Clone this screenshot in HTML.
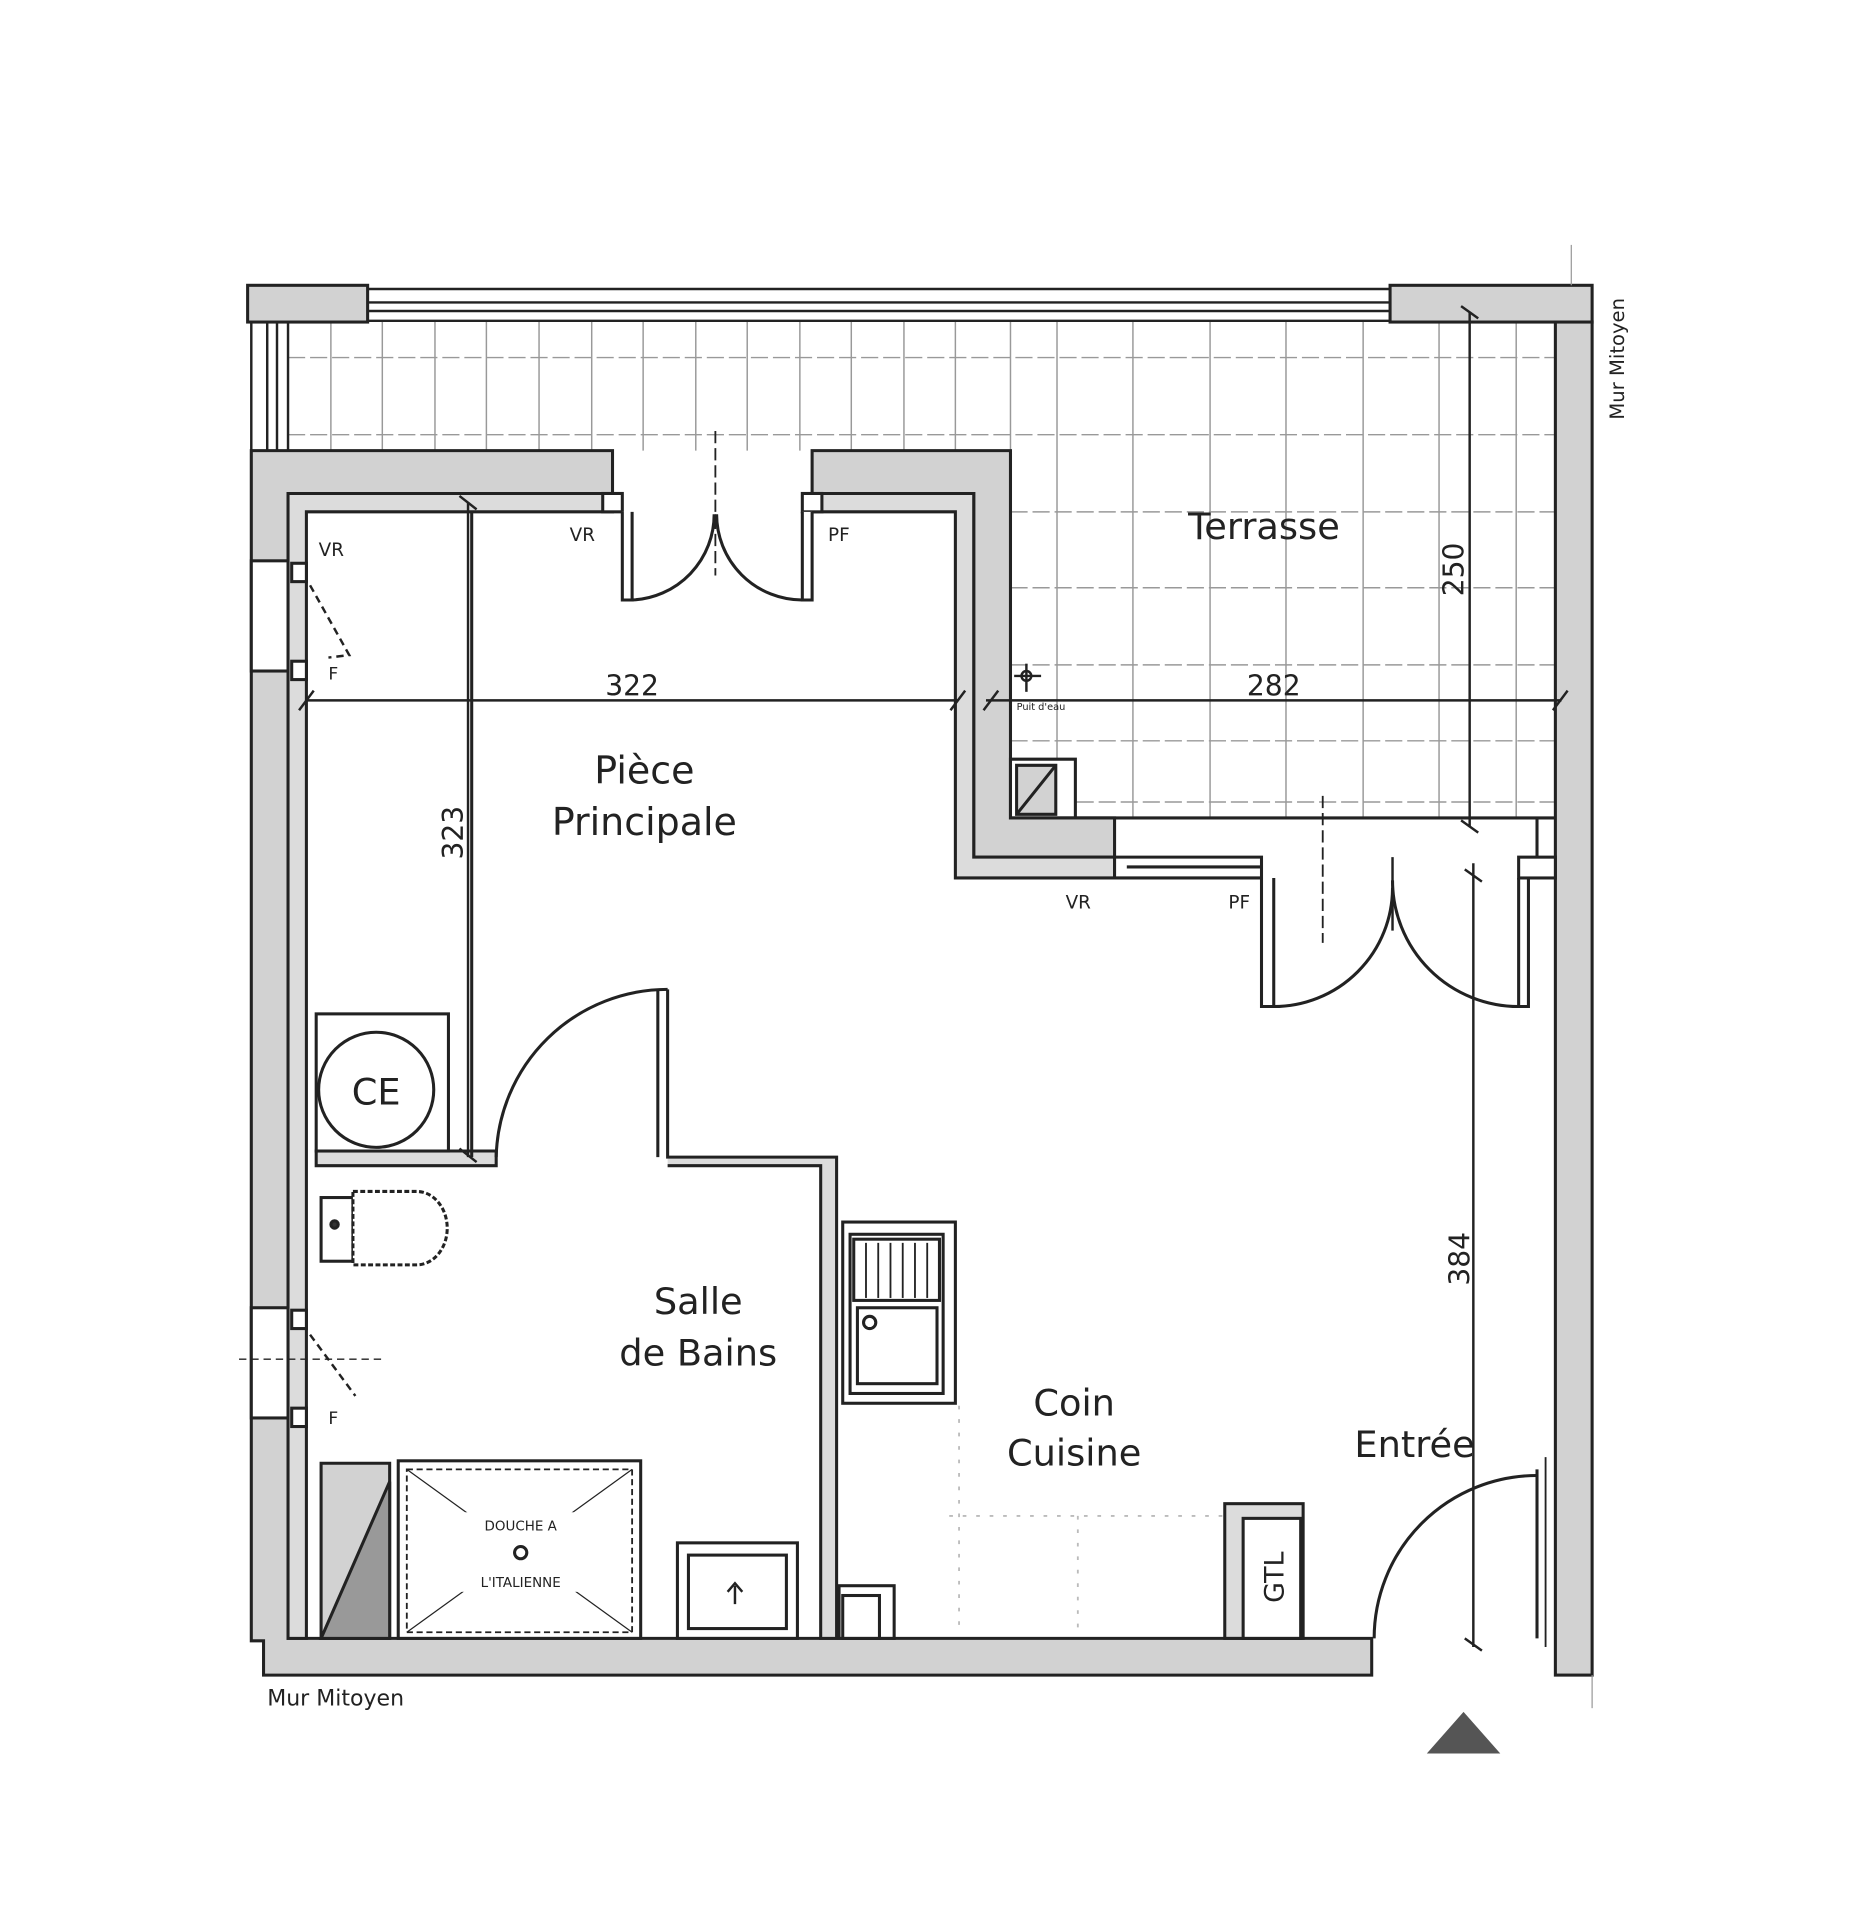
<!DOCTYPE html>
<html><head><meta charset="utf-8"><style>
html,body{margin:0;padding:0;background:#fff;width:1863px;height:1920px;overflow:hidden}
svg{display:block}
text{font-family:"DejaVu Sans","Liberation Sans",sans-serif;fill:#222}
</style></head><body>
<svg width="1863" height="1920" viewBox="0 0 1521 1568" xmlns="http://www.w3.org/2000/svg">
<g stroke="#222" stroke-width="2.5" fill="#d2d2d2">
<!-- terrace grid -->
<g stroke="#999" stroke-width="1.2" fill="none">
<line x1="270" y1="263" x2="270" y2="368"/><line x1="312" y1="263" x2="312" y2="368"/><line x1="355" y1="263" x2="355" y2="368"/><line x1="397" y1="263" x2="397" y2="368"/><line x1="440" y1="263" x2="440" y2="368"/><line x1="483" y1="263" x2="483" y2="368"/><line x1="525" y1="263" x2="525" y2="368"/><line x1="568" y1="263" x2="568" y2="368"/><line x1="610" y1="263" x2="610" y2="368"/><line x1="653" y1="263" x2="653" y2="368"/><line x1="695" y1="263" x2="695" y2="368"/><line x1="738" y1="263" x2="738" y2="368"/><line x1="780" y1="263" x2="780" y2="368"/>
<line x1="863" y1="263" x2="863" y2="668"/><line x1="925" y1="263" x2="925" y2="668"/><line x1="988" y1="263" x2="988" y2="668"/><line x1="1050" y1="263" x2="1050" y2="668"/><line x1="1113" y1="263" x2="1113" y2="668"/><line x1="1175" y1="263" x2="1175" y2="668"/><line x1="1238" y1="263" x2="1238" y2="668"/><line x1="825" y1="263" x2="825" y2="368"/>
<line x1="235" y1="292" x2="1270" y2="292" stroke-dasharray="14 4"/><line x1="235" y1="355" x2="1270" y2="355" stroke-dasharray="14 4"/>
<line x1="825" y1="418" x2="1270" y2="418" stroke-dasharray="14 4"/><line x1="825" y1="480" x2="1270" y2="480" stroke-dasharray="14 4"/><line x1="825" y1="543" x2="1270" y2="543" stroke-dasharray="14 4"/><line x1="825" y1="605" x2="1270" y2="605" stroke-dasharray="14 4"/><line x1="825" y1="655" x2="1270" y2="655" stroke-dasharray="14 4"/>
</g>
<!-- top railing -->
<rect x="202" y="233" width="98" height="30"/>
<rect x="1135" y="233" width="165" height="30"/>
<g fill="none" stroke-width="2"><line x1="300" y1="236" x2="1135" y2="236"/><line x1="300" y1="247" x2="1135" y2="247"/><line x1="300" y1="254" x2="1135" y2="254"/><line x1="300" y1="262" x2="1135" y2="262"/>
<line x1="205" y1="263" x2="205" y2="368"/><line x1="218" y1="263" x2="218" y2="368"/><line x1="226" y1="263" x2="226" y2="368"/><line x1="235" y1="263" x2="235" y2="368"/></g>
<!-- right wall -->
<rect x="1270" y="263" width="30" height="1105"/>
<line x1="1283" y1="200" x2="1283" y2="233" stroke="#999" stroke-width="1"/>
<line x1="1300" y1="1368" x2="1300" y2="1395" stroke="#999" stroke-width="1"/>
<!-- main outer walls -->
<path d="M205 368 H500 V403 H235 V1338 H1120 V1368 H215 V1340 H205 Z"/>
<path d="M663 368 H825 V668 H910 V700 H795 V403 H663 Z"/>
<rect x="205" y="458" width="30" height="90" fill="#fff"/>
<rect x="205" y="1068" width="30" height="90" fill="#fff"/>
<!-- inner liners -->
<path d="M235 403 H500 V418 H250 V1338 H235 Z" fill="#dcdcdc"/>
<path d="M663 403 H795 V700 H910 V717 H780 V418 H663 Z" fill="#dcdcdc"/>
<rect x="492" y="403" width="16" height="15" fill="#fff"/><rect x="655" y="403" width="16" height="15" fill="#fff"/>
<rect x="238" y="460" width="12" height="15" fill="#fff"/><rect x="238" y="540" width="12" height="15" fill="#fff"/>
<rect x="238" y="1070" width="12" height="15" fill="#fff"/><rect x="238" y="1150" width="12" height="15" fill="#fff"/>
<!-- terrace door jambs -->
<path d="M508 418 V490 H516 V418" fill="#fff"/><path d="M655 418 V490 H663 V418" fill="#fff"/>
<g fill="none"><path d="M516 490 A70 70 0 0 0 583 420"/><path d="M655 490 A70 70 0 0 1 585 420"/></g>
<line x1="584" y1="352" x2="584" y2="470" stroke-dasharray="10 4" stroke-width="1.5"/>
<!-- terrace corner box -->
<path d="M825 620 H878 V668 H825 Z" fill="#fff"/>
<path d="M830 625 H862 V665 H830 Z"/><line x1="830" y1="665" x2="862" y2="625"/>
<line x1="825" y1="668" x2="1270" y2="668"/>
<!-- bottom-right window & door -->
<path d="M910 700 H1030 V717 H910 Z" fill="#fff"/><line x1="920" y1="708" x2="1030" y2="708"/>
<path d="M1030 717 V822 H1040 V717" fill="#fff"/>
<path d="M1240 717 V822 H1248 V717" fill="#fff"/>
<rect x="1240" y="700" width="30" height="17" fill="#fff"/>
<line x1="1255" y1="668" x2="1255" y2="700"/>
<g fill="none"><path d="M1040 822 A97 97 0 0 0 1137 725"/><path d="M1240 822 A103 103 0 0 1 1137 719"/></g>
<line x1="1080" y1="650" x2="1080" y2="770" stroke-dasharray="10 4" stroke-width="1.5"/>
<line x1="1137" y1="700" x2="1137" y2="760" stroke-width="2"/>
<!-- bathroom walls -->
<path d="M258 940 H405 V952 H258 Z" fill="#dcdcdc"/>
<rect x="258" y="828" width="108" height="112" fill="#fff"/>
<circle cx="307" cy="890" r="47" fill="#fff"/>
<line x1="385" y1="418" x2="385" y2="945" fill="none"/>
<path d="M545 808 V945 H683 V1338 H670 V952 H545" fill="#dcdcdc"/>
<path d="M405 945 A140 140 0 0 1 545 808" fill="none"/>
<line x1="537" y1="808" x2="537" y2="945"/>
<!-- toilet -->
<rect x="262" y="978" width="26" height="52" fill="#fff"/>
<path d="M288 973 H340 A25 30 0 0 1 340 1033 H288 Z" fill="#fff" stroke-dasharray="4 2"/>
<circle cx="273" cy="1000" r="3" fill="#333"/>
<!-- shower -->
<path d="M262 1195 H318 V1338 H262 Z"/>
<path d="M262 1338 L318 1210 V1338 Z" fill="#999"/>
<rect x="325" y="1193" width="198" height="145" fill="#fff"/>
<rect x="332" y="1200" width="184" height="133" fill="#fff" stroke-dasharray="5 3" stroke-width="1.5"/>
<g stroke-width="1" fill="none"><line x1="332" y1="1200" x2="516" y2="1333"/><line x1="516" y1="1200" x2="332" y2="1333"/></g>
<rect x="370" y="1235" width="110" height="65" fill="#fff" stroke="none"/>
<circle cx="425" cy="1268" r="5" fill="#fff"/>
<!-- washbasin -->
<rect x="553" y="1260" width="98" height="78" fill="#fff"/>
<rect x="562" y="1270" width="80" height="60" fill="#fff"/>
<path d="M600 1310 V1295 M594 1300 L600 1293 L606 1300" fill="none" stroke-width="2"/>
<!-- kitchen -->
<rect x="688" y="998" width="92" height="148" fill="#fff"/>
<rect x="694" y="1008" width="76" height="130" fill="#fff"/>
<rect x="697" y="1012" width="70" height="50" fill="#fff"/>
<g stroke-width="1.5"><line x1="707" y1="1015" x2="707" y2="1060"/><line x1="717" y1="1015" x2="717" y2="1060"/><line x1="727" y1="1015" x2="727" y2="1060"/><line x1="737" y1="1015" x2="737" y2="1060"/><line x1="747" y1="1015" x2="747" y2="1060"/><line x1="757" y1="1015" x2="757" y2="1060"/></g>
<rect x="700" y="1068" width="65" height="62" fill="#fff"/>
<circle cx="710" cy="1080" r="5" fill="#fff"/>
<rect x="685" y="1295" width="45" height="43" fill="#fff"/><rect x="688" y="1303" width="30" height="35" fill="#fff"/>
<g stroke="#bbb" stroke-width="1.5" stroke-dasharray="3 8" fill="none"><line x1="783" y1="1148" x2="783" y2="1335"/><line x1="880" y1="1238" x2="880" y2="1335"/><line x1="775" y1="1238" x2="1000" y2="1238"/></g>
<rect x="1000" y="1228" width="64" height="110" fill="#dcdcdc"/>
<rect x="1015" y="1240" width="47" height="98" fill="#fff"/>
<!-- entry door -->
<line x1="1255" y1="1200" x2="1255" y2="1338"/>
<line x1="1262" y1="1190" x2="1262" y2="1345" stroke-width="1.5"/>
<path d="M1122 1338 A133 133 0 0 1 1255 1205" fill="none"/>
<!-- CE -->
</g>
<!-- dimension lines -->
<g stroke="#222" stroke-width="2" fill="none">
<line x1="250" y1="572" x2="782" y2="572"/><line x1="244" y1="580" x2="256" y2="564"/><line x1="776" y1="580" x2="788" y2="564"/>
<line x1="805" y1="572" x2="1275" y2="572"/><line x1="803" y1="580" x2="815" y2="564"/><line x1="1268" y1="580" x2="1280" y2="564"/>
<line x1="382" y1="410" x2="382" y2="945"/><line x1="375" y1="405" x2="389" y2="416"/><line x1="375" y1="938" x2="389" y2="949"/>
<line x1="1200" y1="255" x2="1200" y2="675"/><line x1="1193" y1="250" x2="1207" y2="260"/><line x1="1193" y1="670" x2="1207" y2="680"/>
<line x1="1203" y1="705" x2="1203" y2="1345"/><line x1="1196" y1="710" x2="1210" y2="720"/><line x1="1196" y1="1338" x2="1210" y2="1348"/>
<path d="M253 478 L285 535 L268 537" stroke-dasharray="6 4"/>
<path d="M253 1090 L290 1140" stroke-dasharray="6 4"/>
<line x1="195" y1="1110" x2="315" y2="1110" stroke-dasharray="6 4" stroke-width="1.2"/>
<circle cx="838" cy="552" r="4"/><line x1="838" y1="542" x2="838" y2="565"/><line x1="828" y1="552" x2="850" y2="552"/>
</g>
<polygon points="1165,1432 1195,1398 1225,1432" fill="#555"/>
<!-- labels -->
<text x="1032" y="440" font-size="30" text-anchor="middle">Terrasse</text>
<text x="526" y="640" font-size="31" text-anchor="middle">Pièce</text>
<text x="526" y="682" font-size="31" text-anchor="middle">Principale</text>
<text x="570" y="1073" font-size="30" text-anchor="middle">Salle</text>
<text x="570" y="1115" font-size="30" text-anchor="middle">de Bains</text>
<text x="877" y="1156" font-size="30" text-anchor="middle">Coin</text>
<text x="877" y="1197" font-size="30" text-anchor="middle">Cuisine</text>
<text x="1155" y="1190" font-size="30" text-anchor="middle">Entrée</text>
<text x="307" y="902" font-size="30" text-anchor="middle">CE</text>
<text x="516" y="568" font-size="23" text-anchor="middle">322</text>
<text x="1040" y="568" font-size="23" text-anchor="middle">282</text>
<text x="378" y="680" font-size="23" text-anchor="middle" transform="rotate(-90 378 680)">323</text>
<text x="1195" y="465" font-size="23" text-anchor="middle" transform="rotate(-90 1195 465)">250</text>
<text x="1200" y="1028" font-size="23" text-anchor="middle" transform="rotate(-90 1200 1028)">384</text>
<text x="1048" y="1288" font-size="22" text-anchor="middle" transform="rotate(-90 1048 1288)">GTL</text>
<text x="260" y="454" font-size="15">VR</text>
<text x="465" y="442" font-size="15">VR</text>
<text x="676" y="442" font-size="15">PF</text>
<text x="870" y="742" font-size="15">VR</text>
<text x="1003" y="742" font-size="15">PF</text>
<text x="268" y="555" font-size="14">F</text>
<text x="268" y="1163" font-size="14">F</text>
<text x="830" y="580" font-size="8">Puit d'eau</text>
<text x="425" y="1250" font-size="11" text-anchor="middle">DOUCHE A</text>
<text x="425" y="1296" font-size="11" text-anchor="middle">L'ITALIENNE</text>
<text x="218" y="1393" font-size="18">Mur Mitoyen</text>
<text x="1326" y="293" font-size="16" text-anchor="middle" transform="rotate(-90 1326 293)">Mur Mitoyen</text>
</svg>
</body></html>
